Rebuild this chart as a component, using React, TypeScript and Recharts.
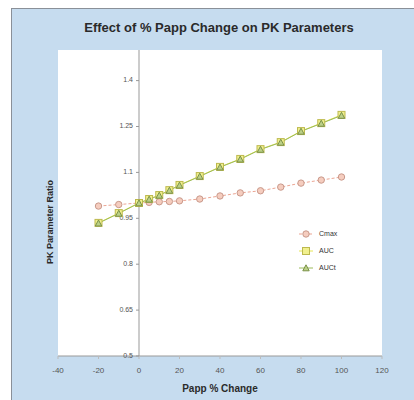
import React from 'react';
import {
  LineChart,
  Line,
  XAxis,
  YAxis,
  CartesianGrid,
  ReferenceLine,
  ReferenceDot
} from 'recharts';

// Papp % change values
const pappChange = [-20, -10, 0, 5, 10, 15, 20, 30, 40, 50, 60, 70, 80, 90, 100];

// PK parameter ratios
const cmaxRatio = [0.99, 0.995, 1.0, 1.002, 1.004, 1.005, 1.007, 1.013, 1.023, 1.033, 1.04, 1.052, 1.065, 1.075, 1.085];
const aucRatio = [0.935, 0.967, 1.0, 1.013, 1.026, 1.042, 1.059, 1.088, 1.118, 1.144, 1.176, 1.199, 1.235, 1.261, 1.288];
const auctRatio = [0.934, 0.966, 1.0, 1.012, 1.025, 1.041, 1.058, 1.087, 1.117, 1.143, 1.175, 1.198, 1.234, 1.26, 1.286];

const xTicks = [-40, -20, 0, 20, 40, 60, 80, 100, 120];
const yTicks = [0.5, 0.65, 0.8, 0.95, 1.1, 1.25, 1.4];
const yTickLabels = ['0.5', '0.65', '0.8', '0.95', '1.1', '1.25', '1.4'];

const chartData = pappChange.map((x, i) => ({
  x,
  cmax: cmaxRatio[i],
  auc: aucRatio[i],
  auct: auctRatio[i]
}));

const FONT = '"Liberation Sans", Arial, sans-serif';

const series = [
  { key: 'cmax', name: 'Cmax', line: '#eba593', fill: '#f5cdbf', stroke: '#c9998b', shape: 'circle', dash: '3 2' },
  { key: 'auc', name: 'AUC', line: '#e6e655', fill: '#f1f08e', stroke: '#bdb94e', shape: 'square', dash: undefined },
  { key: 'auct', name: 'AUCt', line: '#9cbb5a', fill: '#bcd088', stroke: '#7a9148', shape: 'triangle', dash: undefined }
];

const Marker = ({ cx, cy, s }: any) => {
  if (cx == null || cy == null) return null;
  if (s.shape === 'circle') {
    return <circle cx={cx} cy={cy} r={3.2} fill={s.fill} stroke={s.stroke} strokeWidth={1} />;
  }
  if (s.shape === 'square') {
    return <rect x={cx - 3.5} y={cy - 3.5} width={7} height={7} fill={s.fill} stroke={s.stroke} strokeWidth={1} />;
  }
  return (
    <polygon
      points={`${cx},${cy - 3.2} ${cx - 3.2},${cy + 2.8} ${cx + 3.2},${cy + 2.8}`}
      fill={s.fill}
      stroke={s.stroke}
      strokeWidth={1}
    />
  );
};

const LegendBox = () => (
  <div style={{ fontFamily: FONT, fontSize: 7, color: '#333', lineHeight: '17px' }}>
    {series.map((s) => (
      <div key={s.key} style={{ display: 'flex', alignItems: 'center' }}>
        <svg width={16} height={10} style={{ marginRight: 5 }}>
          <line x1={1} y1={5} x2={15} y2={5} stroke={s.line} strokeWidth={1} strokeDasharray={s.dash} />
          <Marker cx={8} cy={5} s={s} />
        </svg>
        <span>{s.name}</span>
      </div>
    ))}
  </div>
);

const YTick = (label: string) => (p: any) => (
  <g>
    <line x1={p.cx - 3} y1={p.cy} x2={p.cx} y2={p.cy} stroke="#999" strokeWidth={1} />
    <text
      x={p.cx - 6}
      y={p.cy}
      textAnchor="end"
      dominantBaseline="middle"
      fontSize={7}
      fill="#555"
      fontFamily={FONT}
    >
      {label}
    </text>
  </g>
);

export default function App() {
  return (
    <div
      style={{
        position: 'absolute',
        left: 11,
        top: 8,
        width: 403,
        height: 392,
        background: '#c6dcef',
        boxShadow: 'inset 1px 1px 0 #8a9098',
        fontFamily: FONT
      }}
    >
      {/* Title */}
      <div
        style={{
          position: 'absolute',
          left: 0,
          width: 416,
          top: 12,
          textAlign: 'center',
          fontWeight: 'bold',
          fontSize: 13,
          color: '#2a2a2a'
        }}
      >
        Effect of % Papp Change on PK Parameters
      </div>

      {/* Y axis title */}
      <div
        style={{
          position: 'absolute',
          left: 39,
          top: 214,
          transform: 'translate(-50%, -50%) rotate(-90deg)',
          whiteSpace: 'nowrap',
          fontWeight: 'bold',
          fontSize: 9,
          color: '#2a2a2a'
        }}
      >
        PK Parameter Ratio
      </div>

      <div style={{ position: 'absolute', left: 0, top: 0 }}>
        <LineChart
          width={403}
          height={392}
          data={chartData}
          margin={{ top: 42, right: 32, bottom: 8, left: 47 }}
        >
          <CartesianGrid horizontal={false} vertical={false} fill="#ffffff" stroke="#d0d0d0" />
          <XAxis
            type="number"
            dataKey="x"
            domain={[-40, 120]}
            ticks={xTicks}
            allowDataOverflow
            height={36}
            tickSize={3}
            tickMargin={8}
            tick={{ fontSize: 8, fill: '#555', fontFamily: FONT }}
            axisLine={{ stroke: '#999' }}
            tickLine={{ stroke: '#bbb' }}
            label={{
              value: 'Papp % Change',
              position: 'insideBottom',
              offset: 0,
              fontSize: 10,
              fontWeight: 'bold',
              fill: '#2a2a2a',
              fontFamily: FONT
            }}
          />
          <YAxis type="number" domain={[0.5, 1.5]} ticks={yTicks} allowDataOverflow hide />
          <ReferenceLine x={0} stroke="#999" strokeWidth={1} ifOverflow="visible" />
          {yTicks.map((v, i) => (
            <ReferenceDot
              key={`yt-${v}`}
              x={0}
              y={v}
              r={0}
              ifOverflow="visible"
              shape={YTick(yTickLabels[i])}
            />
          ))}
          {series.map((s) => (
            <Line
              key={s.key}
              type="linear"
              dataKey={s.key}
              name={s.name}
              stroke={s.line}
              strokeWidth={1}
              strokeDasharray={s.dash}
              isAnimationActive={false}
              activeDot={false}
              dot={(p: any) => <Marker key={`${s.key}-${p.index}`} cx={p.cx} cy={p.cy} s={s} />}
            />
          ))}
        </LineChart>
      </div>

      {/* Legend */}
      <div style={{ position: 'absolute', left: 287, top: 217 }}>
        <LegendBox />
      </div>
    </div>
  );
}
